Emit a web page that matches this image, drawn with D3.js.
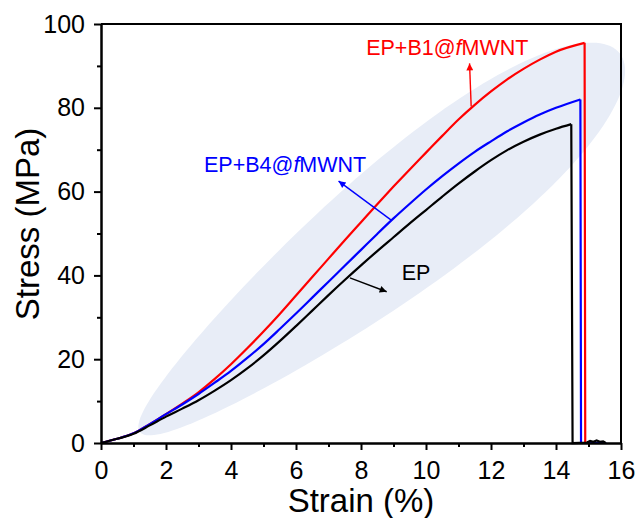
<!DOCTYPE html>
<html>
<head>
<meta charset="utf-8">
<script src="https://cdn.jsdelivr.net/npm/d3@7"></script>
<style>
    body { margin: 0; background: #fff; }
    svg { display: block; font-family: "Liberation Sans", Arial, sans-serif; }
    .axis text { font-size: 25px; fill: #000; font-family: "Liberation Sans", Arial, sans-serif; }
    .axis path, .axis line { stroke: #000; stroke-width: 2px; }
    .axis-title { font-size: 33px; fill: #000; }
    .note { font-size: 21.5px; }
</style>
</head>
<body>
<div id="svg_container"></div>
<script>
// strain grid shared by the three rising branches (%)
const strainGrid = [0, 0.5, 1, 1.5, 2, 2.5, 3, 3.5, 4, 4.5, 5, 5.5, 6, 6.5, 7,
    7.5, 8, 8.5, 9, 9.5, 10, 10.5, 11, 11.5, 12, 12.5, 13, 13.5, 14];

// stress (MPa) on the grid
const stressB1 = [0, 1.0, 2.3, 4.5, 6.9, 9.4, 12.1, 15.3, 18.8, 22.6, 26.6, 30.8, 35.2, 39.6, 44.0,
    48.4, 52.7, 57.0, 61.2, 65.3, 69.3, 73.3, 77.2, 80.7, 83.9, 86.8, 89.3, 91.5, 93.4];
const stressB4 = [0, 1.0, 2.3, 4.5, 6.9, 9.2, 11.7, 14.4, 17.2, 20.3, 23.6, 27.2, 30.9, 34.7, 38.5,
    42.3, 46.1, 49.9, 53.6, 57.1, 60.5, 63.7, 66.7, 69.5, 72.0, 74.4, 76.5, 78.4, 80.0];
const stressEP = [0, 1.0, 2.2, 4.2, 6.3, 8.2, 10.2, 12.5, 15.0, 17.8, 20.9, 24.3, 27.9, 31.6, 35.3,
    38.9, 42.4, 45.8, 49.1, 52.4, 55.6, 58.8, 61.9, 64.8, 67.5, 69.9, 71.9, 73.6, 75.0];

// peak and break, order: B1, B4, EP
const peakStrain = [14.88, 14.75, 14.47];
const peakStress = [95.5, 82.0, 76.1];
const breakStrain = [14.9, 14.77, 14.51];

// what is left after fracture
const tailStrainB1 = [14.9, 14.95];
const tailStressB1 = [0, 0];
const tailStrainB4 = [14.77, 15.55];
const tailStressB4 = [0, 0];
const tailStrainEP = [14.51, 14.95, 15.05, 15.15, 15.25, 15.35, 15.45, 15.53];
const tailStressEP = [0, 0.1, 0.5, 0.3, 0.6, 0.3, 0.4, 0];

const seriesNames = ["EP+B1@fMWNT", "EP+B4@fMWNT", "EP"];
const seriesColors = ["#ff0000", "#0000ff", "#000000"];

// labels and arrows, in data units
const labelStrain = [8.16, 3.17, 9.25];
const labelStress = [92.6, 64.7, 38.9];
const arrowFromStrain = [11.39, 8.93, 7.66];
const arrowFromStress = [80.3, 53.2, 39.4];
const arrowToStrain = [11.34, 7.31, 8.79];
const arrowToStress = [90.6, 62.5, 36.1];

const xTicks = [0, 2, 4, 6, 8, 10, 12, 14, 16];
const xMinor = [1, 3, 5, 7, 9, 11, 13, 15];
const yTicks = [0, 20, 40, 60, 80, 100];
const yMinor = [10, 30, 50, 70, 90];

function StrainChart(width, height, containerID, margin) {
    this.width = width;
    this.height = height;
    this.margin = margin;
    this.graphWidth = width - margin.left - margin.right;
    this.graphHeight = height - margin.top - margin.bottom;

    this.x = d3.scaleLinear().domain([0, 16]).range([0, this.graphWidth]);
    this.y = d3.scaleLinear().domain([0, 100]).range([this.graphHeight, 0]);

    this.svg = d3.select(containerID)
            .append("svg")
            .attr("width", width)
            .attr("height", height);
    this.g = this.svg.append("g")
            .attr("transform", "translate(" + margin.left + "," + margin.top + ")");

    this.drawBlob = function () {
        // shaded egg shaped area behind the curves
        var x = this.x, y = this.y;
        var p0 = [x(1.2), y(2.6)], p1 = [x(15.96), y(93)];
        var cx = (p0[0] + p1[0]) / 2, cy = (p0[1] + p1[1]) / 2;
        var dx = p1[0] - p0[0], dy = p1[1] - p0[1];
        var len = Math.sqrt(dx * dx + dy * dy);
        var u = [dx / len, dy / len], n = [u[1], -u[0]];
        var a = len / 2, hw = 64, skew = 0.3;
        var pts = d3.range(0, 2 * Math.PI, Math.PI / 90).map(function (t) {
            var along = a * Math.cos(t);
            var across = hw * (1 + skew * Math.cos(t)) * Math.sin(t);
            return [cx + along * u[0] + across * n[0], cy + along * u[1] + across * n[1]];
        });
        this.g.append("path")
                .attr("d", d3.line().curve(d3.curveLinearClosed)(pts))
                .attr("fill", "#e8edf7");
    };

    this.drawAxes = function () {
        var gw = this.graphWidth, gh = this.graphHeight;
        this.g.append("g")
                .attr("class", "axis")
                .attr("transform", "translate(0," + gh + ")")
                .call(d3.axisBottom(this.x).tickValues(xMinor).tickSize(4).tickSizeOuter(0).tickFormat(""));
        this.g.append("g")
                .attr("class", "axis")
                .attr("transform", "translate(0," + gh + ")")
                .call(d3.axisBottom(this.x).tickValues(xTicks).tickSize(7).tickSizeOuter(0).tickPadding(11));
        this.g.append("g")
                .attr("class", "axis")
                .call(d3.axisLeft(this.y).tickValues(yMinor).tickSize(4).tickSizeOuter(0).tickFormat(""));
        this.g.append("g")
                .attr("class", "axis")
                .call(d3.axisLeft(this.y).tickValues(yTicks).tickSize(7).tickSizeOuter(0).tickPadding(9));
        // top and right frame
        this.g.append("path")
                .attr("d", "M0,0H" + gw + "V" + gh)
                .attr("fill", "none")
                .attr("stroke", "#000")
                .attr("stroke-width", 2);

        this.svg.append("text")
                .attr("class", "axis-title")
                .attr("text-anchor", "middle")
                .attr("x", this.margin.left + gw / 2)
                .attr("y", 512)
                .text("Strain (%)");
        this.svg.append("text")
                .attr("class", "axis-title")
                .attr("text-anchor", "middle")
                .attr("transform", "translate(38.5,224)rotate(-90)")
                .text("Stress (MPa)");
    };

    this.drawCurves = function () {
        var x = this.x, y = this.y, g = this.g;
        var stresses = [stressB1, stressB4, stressEP];
        var tails = [[tailStrainB1, tailStressB1], [tailStrainB4, tailStressB4], [tailStrainEP, tailStressEP]];
        var smooth = d3.line().x(d => x(d[0])).y(d => y(d[1])).curve(d3.curveMonotoneX);
        var straight = d3.line().x(d => x(d[0])).y(d => y(d[1]));
        seriesNames.forEach(function (name, k) {
            var rise = strainGrid.map((s, i) => [s, stresses[k][i]]);
            rise.push([peakStrain[k], peakStress[k]]);
            var drop = [[peakStrain[k], peakStress[k]], [breakStrain[k], 0]];
            tails[k][0].forEach((s, i) => drop.push([s, tails[k][1][i]]));
            g.append("path")
                    .attr("d", smooth(rise))
                    .attr("fill", "none")
                    .attr("stroke", seriesColors[k])
                    .attr("stroke-width", 2.2);
            g.append("path")
                    .attr("d", straight(drop))
                    .attr("fill", "none")
                    .attr("stroke", seriesColors[k])
                    .attr("stroke-width", 2.2);
        });
    };

    this.drawNotes = function () {
        var x = this.x, y = this.y, g = this.g;
        var defs = this.svg.append("defs");
        seriesNames.forEach(function (name, k) {
            defs.append("marker")
                    .attr("id", "head" + k)
                    .attr("viewBox", "0 0 10 10")
                    .attr("refX", 10)
                    .attr("refY", 5)
                    .attr("markerUnits", "userSpaceOnUse")
                    .attr("markerWidth", 12)
                    .attr("markerHeight", 7)
                    .attr("orient", "auto")
                    .append("path")
                    .attr("d", "M0,0L10,5L0,10z")
                    .attr("fill", seriesColors[k]);
            g.append("line")
                    .attr("x1", x(arrowFromStrain[k]))
                    .attr("y1", y(arrowFromStress[k]))
                    .attr("x2", x(arrowToStrain[k]))
                    .attr("y2", y(arrowToStress[k]))
                    .attr("stroke", seriesColors[k])
                    .attr("stroke-width", 1.4)
                    .attr("marker-end", "url(#head" + k + ")");
            var t = g.append("text")
                    .attr("class", "note")
                    .attr("x", x(labelStrain[k]))
                    .attr("y", y(labelStress[k]))
                    .attr("fill", seriesColors[k]);
            var at = name.indexOf("@f");
            if (at < 0) {
                t.text(name);
            } else {
                t.append("tspan").text(name.slice(0, at + 1));
                t.append("tspan").attr("font-style", "italic").text("f");
                t.append("tspan").text(name.slice(at + 2));
            }
        });
    };

    this.drawBlob();
    this.drawCurves();
    this.drawAxes();
    this.drawNotes();
}

new StrainChart(638, 518, "#svg_container", {top: 24, right: 17, bottom: 75, left: 101});
</script>
</body>
</html>
